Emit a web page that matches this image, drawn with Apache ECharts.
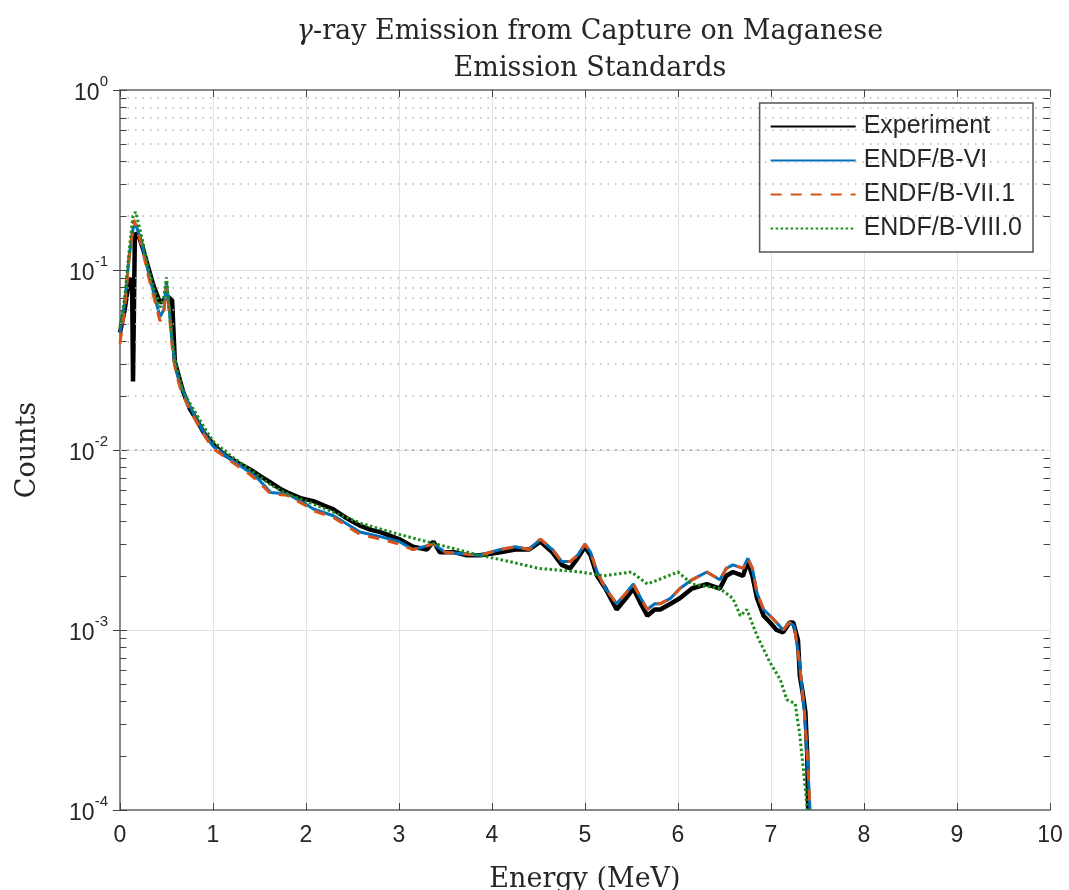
<!DOCTYPE html>
<html>
<head>
<meta charset="utf-8">
<script src="https://cdn.jsdelivr.net/npm/echarts@6/dist/echarts.min.js"></script>
<style>
  html, body { margin: 0; padding: 0; background: #fff; }
  #main { width: 1069px; height: 890px; }
</style>
</head>
<body>
<div id="main"></div>
<script>
// energy (MeV) and counts
var expEnergy = [0, 0.05, 0.1, 0.13, 0.14, 0.16, 0.2, 0.25, 0.3, 0.36, 0.43, 0.47, 0.5, 0.53, 0.56, 0.59, 0.63, 0.68, 0.75, 0.83, 0.9, 1.0, 1.1, 1.2, 1.3, 1.4, 1.5, 1.6, 1.72, 1.8, 1.94, 2.08, 2.2, 2.29, 2.4, 2.5, 2.58, 2.7, 2.8, 3.0, 3.15, 3.3, 3.37, 3.44, 3.6, 3.73, 3.87, 4.09, 4.25, 4.4, 4.52, 4.65, 4.75, 4.84, 4.92, 5.0, 5.06, 5.13, 5.22, 5.34, 5.44, 5.52, 5.6, 5.67, 5.75, 5.81, 5.92, 6.02, 6.15, 6.31, 6.45, 6.52, 6.59, 6.7, 6.75, 6.8, 6.85, 6.92, 6.99, 7.06, 7.13, 7.2, 7.24, 7.29, 7.31, 7.34, 7.37, 7.39, 7.4];
var expCounts = [0.045, 0.06, 0.09, 0.085, 0.024, 0.16, 0.155, 0.13, 0.105, 0.082, 0.066, 0.068, 0.072, 0.07, 0.068, 0.031, 0.026, 0.021, 0.017, 0.0145, 0.0125, 0.0108, 0.0096, 0.0089, 0.0083, 0.0078, 0.0072, 0.0067, 0.0061, 0.0058, 0.0054, 0.0052, 0.0049, 0.0047, 0.0043, 0.004, 0.0038, 0.0036, 0.0035, 0.0032, 0.0029, 0.0028, 0.0031, 0.0027, 0.0027, 0.0026, 0.0026, 0.0027, 0.0028, 0.0028, 0.0031, 0.0027, 0.0023, 0.0022, 0.0025, 0.0029, 0.0026, 0.002, 0.0017, 0.0013, 0.0015, 0.0017, 0.0014, 0.0012, 0.0013, 0.0013, 0.0014, 0.0015, 0.0017, 0.0018, 0.0017, 0.002, 0.0021, 0.002, 0.0024, 0.002, 0.0015, 0.0012, 0.0011, 0.001, 0.00097, 0.0011, 0.0011, 0.00088, 0.00056, 0.00045, 0.00035, 0.0002, 0.0001];

var endf6Energy = [0, 0.05, 0.1, 0.14, 0.17, 0.2, 0.25, 0.3, 0.36, 0.43, 0.47, 0.5, 0.53, 0.56, 0.6, 0.65, 0.7, 0.8, 0.9, 1.0, 1.2, 1.4, 1.5, 1.62, 1.8, 2.0, 2.08, 2.3, 2.58, 2.8, 3.0, 3.15, 3.37, 3.5, 3.87, 4.09, 4.25, 4.4, 4.52, 4.65, 4.75, 4.84, 4.92, 5.0, 5.06, 5.13, 5.22, 5.34, 5.44, 5.52, 5.6, 5.67, 5.75, 5.81, 5.92, 6.02, 6.15, 6.31, 6.45, 6.52, 6.59, 6.7, 6.75, 6.8, 6.85, 6.92, 6.99, 7.06, 7.13, 7.2, 7.25, 7.3, 7.33, 7.36, 7.39, 7.42];
var endf6Counts = [0.045, 0.065, 0.12, 0.17, 0.18, 0.16, 0.13, 0.1, 0.075, 0.055, 0.06, 0.085, 0.06, 0.04, 0.028, 0.023, 0.02, 0.0155, 0.0125, 0.0105, 0.0088, 0.0075, 0.0068, 0.0058, 0.0057, 0.005, 0.0047, 0.0043, 0.0035, 0.0033, 0.0031, 0.0028, 0.003, 0.0027, 0.0026, 0.0028, 0.0029, 0.0028, 0.0032, 0.0028, 0.0024, 0.0024, 0.0026, 0.003, 0.0027, 0.0021, 0.0017, 0.0014, 0.0016, 0.0018, 0.0015, 0.0013, 0.0014, 0.0014, 0.0015, 0.0017, 0.0019, 0.0021, 0.0019, 0.0022, 0.0023, 0.0022, 0.0025, 0.0022, 0.0016, 0.0013, 0.0012, 0.0011, 0.001, 0.0011, 0.00105, 0.0007, 0.0005, 0.00035, 0.0002, 0.0001];

var endf71Energy = [0, 0.05, 0.1, 0.15, 0.18, 0.21, 0.25, 0.3, 0.36, 0.43, 0.47, 0.5, 0.53, 0.56, 0.6, 0.65, 0.7, 0.8, 0.9, 1.0, 1.2, 1.4, 1.5, 1.62, 1.8, 2.0, 2.08, 2.3, 2.58, 2.8, 3.0, 3.15, 3.37, 3.5, 3.87, 4.09, 4.25, 4.4, 4.52, 4.65, 4.75, 4.84, 4.92, 5.0, 5.06, 5.13, 5.22, 5.34, 5.44, 5.52, 5.6, 5.67, 5.75, 5.81, 5.92, 6.02, 6.15, 6.31, 6.45, 6.52, 6.59, 6.7, 6.75, 6.8, 6.85, 6.92, 6.99, 7.06, 7.13, 7.2, 7.25, 7.3, 7.33, 7.36, 7.39, 7.42];
var endf71Counts = [0.039, 0.06, 0.12, 0.19, 0.17, 0.15, 0.125, 0.095, 0.072, 0.052, 0.058, 0.082, 0.058, 0.038, 0.027, 0.022, 0.019, 0.015, 0.0122, 0.0102, 0.0086, 0.0073, 0.0066, 0.0057, 0.0056, 0.0049, 0.0046, 0.0042, 0.0034, 0.0032, 0.003, 0.0028, 0.003, 0.0027, 0.0026, 0.0028, 0.0029, 0.0028, 0.0032, 0.0028, 0.0024, 0.0024, 0.0026, 0.003, 0.0027, 0.0021, 0.0017, 0.0014, 0.0016, 0.0018, 0.0015, 0.0013, 0.0014, 0.0014, 0.0015, 0.0017, 0.0019, 0.0021, 0.0019, 0.0022, 0.0023, 0.0022, 0.0025, 0.0022, 0.0016, 0.0013, 0.0012, 0.0011, 0.001, 0.0011, 0.00105, 0.0007, 0.0005, 0.00035, 0.0002, 0.0001];

var endf80Energy = [0, 0.05, 0.1, 0.14, 0.17, 0.2, 0.25, 0.3, 0.36, 0.43, 0.47, 0.5, 0.53, 0.56, 0.6, 0.68, 0.8, 0.9, 1.0, 1.2, 1.4, 1.62, 1.8, 2.0, 2.3, 2.6, 3.0, 3.4, 3.87, 4.19, 4.5, 4.95, 5.2, 5.5, 5.67, 6.0, 6.15, 6.45, 6.59, 6.67, 6.74, 6.85, 6.99, 7.1, 7.17, 7.26, 7.31, 7.37, 7.39];
var endf80Counts = [0.048, 0.07, 0.13, 0.2, 0.21, 0.18, 0.14, 0.104, 0.08, 0.062, 0.07, 0.091, 0.06, 0.042, 0.03, 0.021, 0.0165, 0.0135, 0.0112, 0.0092, 0.0078, 0.0064, 0.0057, 0.0052, 0.0045, 0.0039, 0.0034, 0.003, 0.0026, 0.0024, 0.0022, 0.0021, 0.002, 0.0021, 0.0018, 0.0021, 0.0018, 0.0017, 0.0015, 0.0012, 0.0013, 0.00093, 0.00066, 0.00053, 0.00041, 0.00039, 0.00026, 0.00013, 0.0001];

var seriesNames = ['Experiment', 'ENDF/B-VI', 'ENDF/B-VII.1', 'ENDF/B-VIII.0'];
var xTicks = [0, 1, 2, 3, 4, 5, 6, 7, 8, 9, 10];

// minor log positions 2..9 x 10^k
var minorVals = [];
for (var k = -4; k < 0; k++) {
	for (var m = 2; m <= 9; m++) {
		minorVals.push(m * Math.pow(10, k));
	}
}

function pairs(xs, ys){
	var out = [];
	for (var i = 0; i < xs.length; i++) {
		out.push([xs[i], ys[i]]);
	}
	return out;
}

var chart = echarts.init(document.getElementById('main'));
var sans = 'Liberation Sans';
var serif = 'DejaVu Serif';
var axisGray = '#8a8a8a';

var minorGrid = [];
var minorTicks = [];
for (var i = 0; i < minorVals.length; i++) {
	minorGrid.push({yAxis: minorVals[i]});
	minorTicks.push([{coord: [0, minorVals[i]]}, {coord: [0.07, minorVals[i]]}]);
	minorTicks.push([{coord: [9.93, minorVals[i]]}, {coord: [10, minorVals[i]]}]);
}

var option = {
	animation: false,
	backgroundColor: '#fff',
	title: {
		text: '{g|γ}-ray Emission from Capture on Maganese\nEmission Standards',
		left: 585,
		textAlign: 'center',
		top: 8,
		textStyle: {
			fontFamily: serif,
			fontSize: 27,
			fontWeight: 'normal',
			color: '#262626',
			lineHeight: 37,
			rich: {
				g: {fontFamily: serif, fontSize: 27, fontStyle: 'italic', color: '#262626'}
			}
		}
	},
	legend: {
		orient: 'vertical',
		right: 36,
		top: 103,
		itemWidth: 85,
		itemHeight: 14,
		itemGap: 9,
		padding: [11, 11, 11, 10],
		backgroundColor: '#fff',
		borderColor: '#555',
		borderWidth: 1.5,
		borderRadius: 0,
		itemStyle: {opacity: 0},
		textStyle: {fontFamily: sans, fontSize: 25, color: '#262626', padding: [0, 0, 0, 3]},
		data: seriesNames
	},
	grid: {left: 120, right: 19, top: 90, bottom: 80, outerBoundsMode: 'none', containLabel: false},
	xAxis: [{
		type: 'value',
		min: 0, max: 10, interval: 1,
		name: 'Energy (MeV)',
		nameLocation: 'middle',
		nameGap: 56,
		nameTextStyle: {fontFamily: serif, fontSize: 27, color: '#262626'},
		axisLine: {show: true, lineStyle: {color: axisGray, width: 2}},
		axisTick: {show: true, inside: true, length: 7, lineStyle: {color: '#444', width: 1}},
		axisLabel: {fontFamily: sans, fontSize: 23, color: '#262626', margin: 14,
			formatter: function(v){ return xTicks.indexOf(v) >= 0 ? String(v) : ''; }},
		splitLine: {show: true, lineStyle: {color: '#e2e2e2', width: 1}}
	}, {
		type: 'value',
		position: 'top',
		min: 0, max: 10, interval: 1,
		axisLine: {show: true, lineStyle: {color: axisGray, width: 2}},
		axisTick: {show: true, inside: true, length: 7, lineStyle: {color: '#444', width: 1}},
		axisLabel: {show: false},
		splitLine: {show: false}
	}],
	yAxis: [{
		type: 'log',
		logBase: 10,
		min: 1e-4, max: 1,
		name: 'Counts',
		nameLocation: 'middle',
		nameGap: 79,
		nameTextStyle: {fontFamily: serif, fontSize: 27, color: '#262626'},
		axisLine: {show: true, lineStyle: {color: axisGray, width: 2}},
		axisTick: {show: true, inside: true, length: 7, lineStyle: {color: '#444', width: 1}},
		axisLabel: {
			margin: 12,
			formatter: function(v){
				var e = Math.round(Math.log(v) / Math.LN10);
				return '{b|10}{s|' + e + '}';
			},
			rich: {
				b: {fontFamily: sans, fontSize: 23, color: '#262626', padding: [8, 0, 0, 0]},
				s: {fontFamily: sans, fontSize: 15, color: '#262626', verticalAlign: 'top', padding: [0, 0, 10, 0]}
			}
		},
		splitLine: {show: true, lineStyle: {color: '#e2e2e2', width: 1}}
	}, {
		type: 'log',
		logBase: 10,
		position: 'right',
		min: 1e-4, max: 1,
		axisLine: {show: true, lineStyle: {color: axisGray, width: 2}},
		axisTick: {show: true, inside: true, length: 7, lineStyle: {color: '#444', width: 1}},
		axisLabel: {show: false},
		splitLine: {show: false}
	}],
	series: [{
		name: 'minor',
		type: 'line',
		data: [],
		silent: true,
		markLine: {
			silent: true,
			symbol: 'none',
			label: {show: false},
			lineStyle: {color: '#b5b5b5', type: [1.5, 6], width: 1.5},
			data: minorGrid
		},
		z: 1
	}, {
		name: 'minorTicks',
		type: 'line',
		data: [],
		silent: true,
		markLine: {
			silent: true,
			symbol: 'none',
			label: {show: false},
			lineStyle: {color: '#444', type: 'solid', width: 1},
			data: minorTicks
		},
		z: 1
	}, {
		name: 'Experiment',
		type: 'line',
		data: pairs(expEnergy, expCounts),
		showSymbol: false,
		symbol: 'none',
		color: '#000',
		lineStyle: {color: '#000', width: 4.5},
		z: 3
	}, {
		name: 'ENDF/B-VI',
		type: 'line',
		data: pairs(endf6Energy, endf6Counts),
		showSymbol: false,
		symbol: 'none',
		color: '#0072BD',
		lineStyle: {color: '#0072BD', width: 3},
		z: 4
	}, {
		name: 'ENDF/B-VII.1',
		type: 'line',
		data: pairs(endf71Energy, endf71Counts),
		showSymbol: false,
		symbol: 'none',
		color: '#D95319',
		lineStyle: {color: '#D95319', width: 3, type: [11, 9]},
		z: 5
	}, {
		name: 'ENDF/B-VIII.0',
		type: 'line',
		data: pairs(endf80Energy, endf80Counts),
		showSymbol: false,
		symbol: 'none',
		color: '#1a8a1a',
		lineStyle: {color: '#1a8a1a', width: 3, type: [2.5, 2.5]},
		z: 6
	}]
};
chart.setOption(option);
</script>
</body>
</html>
